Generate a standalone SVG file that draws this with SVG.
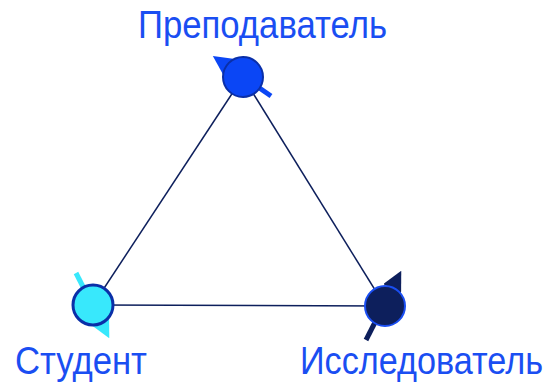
<svg xmlns="http://www.w3.org/2000/svg" width="550" height="386" viewBox="0 0 550 386">
<style>
.edge{stroke:#0d1f5c;stroke-width:1.5;fill:none}
.lbl{font-family:"Liberation Sans Narrow","Liberation Sans",Arial,sans-serif;font-size:38px;fill:#1a4ef2}
</style>
<defs>
<marker id="ab" viewBox="0 0 10 10" refX="2" refY="5" markerWidth="4" markerHeight="4" orient="auto" markerUnits="strokeWidth"><path d="M0,0L10,5L0,10z" fill="#0b46f5"/></marker>
<marker id="ac" viewBox="0 0 10 10" refX="2" refY="5" markerWidth="4" markerHeight="4" orient="auto" markerUnits="strokeWidth"><path d="M0,0L10,5L0,10z" fill="#38e8fc"/></marker>
<marker id="an" viewBox="0 0 10 10" refX="2" refY="5" markerWidth="4" markerHeight="4" orient="auto" markerUnits="strokeWidth"><path d="M0,0L10,5L0,10z" fill="#0d1f5c"/></marker>
</defs>
<g id="connectors">
<line class="edge" x1="243" y1="77" x2="93" y2="305"/>
<line class="edge" x1="243" y1="77" x2="385" y2="306"/>
<line class="edge" x1="93" y1="305" x2="385" y2="306"/>
</g>
<g id="teacher">
<line x1="271" y1="96" x2="226" y2="65" stroke="#0b46f5" stroke-width="5" marker-end="url(#ab)"/>
<circle cx="243" cy="77" r="20" fill="#0b46f5" stroke="#0a2fa8" stroke-width="2"/>
<text class="lbl" x="138" y="38" textLength="249" lengthAdjust="spacingAndGlyphs">Преподаватель</text>
</g>
<g id="student">
<line x1="76" y1="273" x2="102" y2="324" stroke="#38e8fc" stroke-width="5" marker-end="url(#ac)"/>
<circle cx="93" cy="305" r="20" fill="#38e8fc" stroke="#0a2fa8" stroke-width="3"/>
<text class="lbl" x="15" y="374" textLength="132" lengthAdjust="spacingAndGlyphs">Студент</text>
</g>
<g id="researcher">
<line x1="366" y1="340" x2="394" y2="285" stroke="#0d1f5c" stroke-width="5" marker-end="url(#an)"/>
<circle cx="385" cy="306" r="20" fill="#0d1f5c" stroke="#1a4ef2" stroke-width="2"/>
<text class="lbl" x="300" y="374" textLength="243" lengthAdjust="spacingAndGlyphs">Исследователь</text>
</g>
</svg>
